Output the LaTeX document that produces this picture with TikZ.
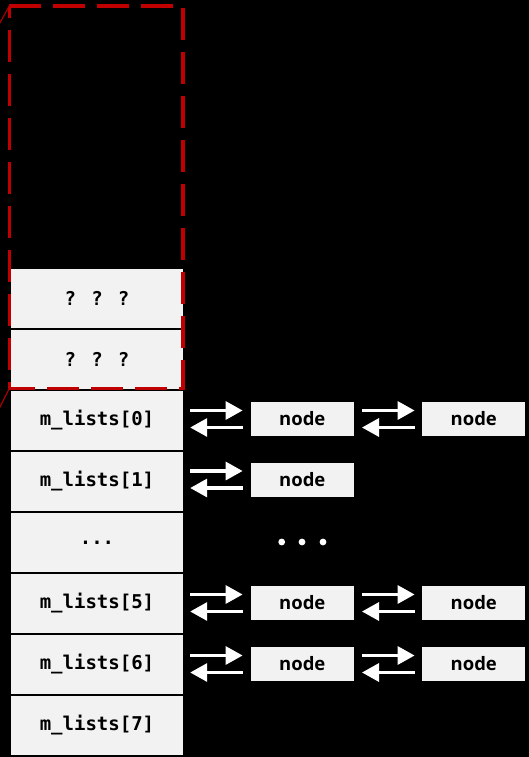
\documentclass[tikz,border=0pt]{standalone}
\usepackage{fontspec}
\usetikzlibrary{arrows.meta,calc}
\newfontfamily\codefont{DejaVu Sans Mono}
\newfontfamily\labelfont{Open Sans}
\definecolor{cellgray}{HTML}{F2F2F2}
\definecolor{markred}{HTML}{C00000}
\begin{document}
\begin{tikzpicture}[x=1pt,y=-1pt,
  slot/.style={fill=cellgray, minimum width=172pt, minimum height=59pt, inner sep=0pt,
    font=\codefont\bfseries\fontsize{19}{20}\selectfont, text=black},
  item/.style={fill=cellgray, minimum width=103pt, minimum height=34pt, inner sep=0pt,
    font=\labelfont\bfseries\fontsize{18.5}{20}\selectfont, text=black},
  link/.style={draw=white, line width=3.2pt, -{Triangle[length=17pt,width=18pt]}},
  frame/.style={draw=markred, line width=3.5pt, dash pattern=on 32pt off 12pt},
  callout/.style={draw=markred!85!black, line width=1.2pt},
]
\useasboundingbox (0,0) rectangle (529,757);
\fill[black] (0,0) rectangle (529,757);

% bucket array
\node[slot] (q1) at (97,298.5) {? ? ?};
\node[slot] (q2) at (97,359.5) {? ? ?};
\node[slot] (l0) at (97,420.5) {m\_lists[0]};
\node[slot] (l1) at (97,481.5) {m\_lists[1]};
\node[slot] (ld) at (97,542.5) {...};
\node[slot] (l5) at (97,603.5) {m\_lists[5]};
\node[slot] (l6) at (97,664.5) {m\_lists[6]};
\node[slot] (l7) at (97,725.5) {m\_lists[7]};

% list nodes
\node[item] (n0a) at (302.3,419)   {node};
\node[item] (n0b) at (473.8,419)   {node};
\node[item] (n1a) at (302.3,479.5) {node};
\node[item] (n5a) at (302.3,603)   {node};
\node[item] (n5b) at (473.8,603)   {node};
\node[item] (n6a) at (302.3,664)   {node};
\node[item] (n6b) at (473.8,664)   {node};

% double links: bucket -> first node
\foreach \b/\n in {l0/n0a, l1/n1a, l5/n5a, l6/n6a}{
  \draw[link, shorten <=7pt, shorten >=8pt]
    ($(\b.east |- \n.west)+(0,8.5pt)$) -- ($(\n.west)+(0,8.5pt)$);
  \draw[link, shorten <=8pt, shorten >=7pt]
    ($(\n.west)+(0,-8.5pt)$) -- ($(\b.east |- \n.west)+(0,-8.5pt)$);
}
% double links: node -> next node
\foreach \a/\n in {n0a/n0b, n5a/n5b, n6a/n6b}{
  \draw[link, shorten <=8pt, shorten >=7.5pt]
    ($(\a.east)+(0,8.5pt)$) -- ($(\n.west)+(0,8.5pt)$);
  \draw[link, shorten <=7.5pt, shorten >=8pt]
    ($(\n.west)+(0,-8.5pt)$) -- ($(\a.east)+(0,-8.5pt)$);
}

% ellipsis between the chains
\fill[white] (281.7,542) circle (3.4) (302,542) circle (3.4) (323,542) circle (3.4);

% dashed region around the unused slots
\coordinate (ftl) at (9.3,6);
\coordinate (ftr) at (183,6);
\coordinate (fbr) at (183,388.5);
\coordinate (fbl) at (9.3,388.5);
\draw[frame] (ftl) -- (ftr) -- (fbr) -- (fbl) -- cycle;

% callout lines leaving the region
\coordinate (cto) at (-1,24.5);
\coordinate (cbo) at (-1,409);
\draw[callout] (ftl) -- (cto);
\draw[callout] (fbl) -- (cbo);
\end{tikzpicture}
\end{document}
